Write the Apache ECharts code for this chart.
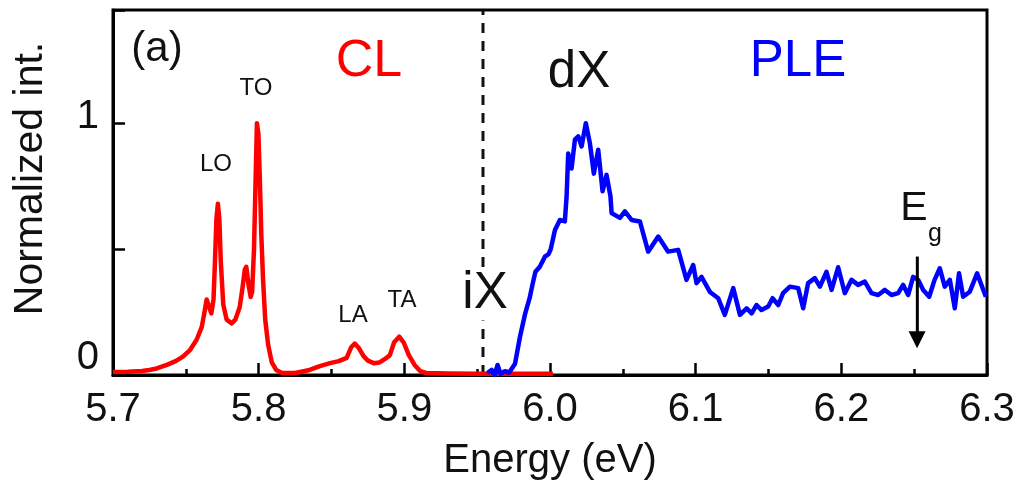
<!DOCTYPE html>
<html><head><meta charset="utf-8">
<script src="https://cdn.jsdelivr.net/npm/echarts@6/dist/echarts.min.js"></script>
<style>html,body{margin:0;padding:0;background:#fff}#c{width:1019px;height:488px}</style>
</head><body><div id="c"></div>
<script>
// CL spectrum (red)
const clEnergy = [5.700,5.710,5.720,5.725,5.730,5.737,5.743,5.748,5.753,5.7574,5.7609,5.7625,5.7643,5.7660,5.7675,5.7690,5.7700,5.7710,5.7720,5.7730,5.7740,5.7757,5.7780,5.7815,5.7840,5.7870,5.7890,5.7905,5.7915,5.7930,5.7945,5.7955,5.7968,5.7978,5.7988,5.7998,5.8008,5.8018,5.8030,5.8045,5.8065,5.8090,5.8120,5.8160,5.8250,5.8350,5.8420,5.8490,5.8550,5.8604,5.8635,5.8660,5.8690,5.8720,5.8750,5.8790,5.8830,5.8870,5.8900,5.8930,5.8965,5.8995,5.9030,5.9070,5.9110,5.9150,5.9300,5.9500,5.9700,6.0020];
const clIntensity = [0.012,0.013,0.016,0.020,0.026,0.040,0.055,0.073,0.100,0.140,0.190,0.240,0.300,0.270,0.245,0.300,0.450,0.620,0.680,0.620,0.450,0.280,0.220,0.205,0.220,0.270,0.350,0.420,0.430,0.360,0.310,0.330,0.500,0.750,1.000,0.960,0.780,0.560,0.380,0.220,0.120,0.050,0.020,0.008,0.008,0.020,0.035,0.047,0.055,0.068,0.110,0.125,0.105,0.075,0.057,0.047,0.050,0.065,0.078,0.130,0.152,0.130,0.080,0.040,0.015,0.008,0.006,0.005,0.005,0.005];
// PLE spectrum (blue)
const pleEnergy = [5.957,5.960,5.962,5.964,5.966,5.969,5.972,5.976,5.9794,5.983,5.986,5.988,5.990,5.993,5.9965,5.999,6.0005,6.0034,6.0068,6.0102,6.0114,6.0125,6.0148,6.0171,6.0194,6.0217,6.0246,6.0274,6.0301,6.0331,6.0361,6.0388,6.0415,6.0423,6.0480,6.0514,6.0560,6.0617,6.0674,6.0743,6.0811,6.0880,6.0937,6.0983,6.1006,6.1040,6.1098,6.1155,6.1200,6.1258,6.1304,6.1350,6.1384,6.1418,6.1452,6.1498,6.1528,6.1567,6.1600,6.1647,6.1704,6.1738,6.1772,6.1818,6.1853,6.1898,6.1933,6.1978,6.2024,6.2070,6.2115,6.2161,6.2207,6.2253,6.2299,6.2344,6.2390,6.2424,6.2459,6.2493,6.2527,6.2562,6.2603,6.2640,6.2676,6.2710,6.2745,6.2779,6.2808,6.2836,6.2882,6.2932,6.2992];
const pleIntensity = [0.008,0.020,0.000,0.040,0.005,0.015,0.010,0.045,0.152,0.245,0.305,0.360,0.410,0.430,0.470,0.480,0.500,0.576,0.616,0.610,0.710,0.880,0.820,0.935,0.948,0.908,1.000,0.920,0.800,0.895,0.730,0.795,0.710,0.643,0.624,0.650,0.616,0.610,0.490,0.550,0.490,0.497,0.378,0.437,0.365,0.390,0.330,0.305,0.239,0.345,0.239,0.265,0.245,0.278,0.258,0.272,0.305,0.278,0.325,0.351,0.345,0.265,0.365,0.385,0.351,0.410,0.338,0.428,0.325,0.378,0.358,0.371,0.325,0.318,0.338,0.318,0.325,0.358,0.318,0.390,0.378,0.338,0.311,0.378,0.424,0.351,0.378,0.265,0.404,0.311,0.331,0.404,0.311];
// iX marker (dashed line) and Eg arrow
const iXEnergy = 5.954;
const yRange = [0, 1.45];
const egEnergy = 6.252;
const egArrowFrom = 0.47;
const egArrowTo = 0.14;
const xTicks = [5.7, 6.3, 0.1];

const clData = clEnergy.map((e, i) => [e, clIntensity[i]]);
const pleData = pleEnergy.map((e, i) => [e, pleIntensity[i]]);
const FONT = '"Liberation Sans", Arial, Helvetica, sans-serif';

const chart = echarts.init(document.getElementById('c'), null, {renderer: 'canvas'});
chart.setOption({
  animation: false,
  backgroundColor: '#fff',
  grid: {left: 113, right: 32, top: 10, bottom: 113, show: true, borderColor: '#000', borderWidth: 3, backgroundColor: 'transparent'},
  xAxis: {
    type: 'value', min: xTicks[0], max: xTicks[1], interval: xTicks[2],
    name: 'Energy (eV)', nameLocation: 'middle', nameGap: 66,
    nameTextStyle: {fontFamily: FONT, fontSize: 40, color: '#111'},
    axisLine: {show: true, lineStyle: {color: '#000', width: 3}},
    axisTick: {show: true, inside: true, length: 12, lineStyle: {color: '#000', width: 2.5}},
    minorTick: {show: true, splitNumber: 2, length: 6, lineStyle: {color: '#000', width: 2.5}},
    splitLine: {show: false},
    axisLabel: {margin: 15, fontFamily: FONT, fontSize: 40, color: '#111', formatter: v => v.toFixed(1), showMinLabel: true, showMaxLabel: true}
  },
  yAxis: {
    type: 'value', min: yRange[0], max: yRange[1], interval: 0.5,
    name: 'Normalized int.', nameLocation: 'middle', nameGap: 62,
    nameTextStyle: {fontFamily: FONT, fontSize: 41, color: '#111', padding: [0, 0, 0, 28]},
    axisLine: {show: true, lineStyle: {color: '#000', width: 3}},
    axisTick: {show: true, inside: true, length: 12, lineStyle: {color: '#000', width: 2.5}},
    splitLine: {show: false},
    axisLabel: {
      margin: 14, fontFamily: FONT, fontSize: 40, color: '#111',
      formatter: v => v === 0 ? '{z|0}' : (v === 1 ? '{o|1}' : ''),
      rich: {
        z: {fontFamily: FONT, fontSize: 40, color: '#111', padding: [0, 0, 34, 0]},
        o: {fontFamily: FONT, fontSize: 40, color: '#111', padding: [0, 0, 12, 0]}
      }
    }
  },
  series: [
    {type: 'line', name: 'CL', data: clData, showSymbol: false, smooth: false, z: 3,
     lineStyle: {color: '#ff0000', width: 4.5, join: 'round'}, itemStyle: {color: '#ff0000'}},
    {type: 'line', name: 'PLE', data: pleData, showSymbol: false, smooth: false, z: 4,
     lineStyle: {color: '#0000ff', width: 4.5, join: 'round'}, itemStyle: {color: '#0000ff'}},
    {type: 'line', name: 'iX', data: [[iXEnergy, yRange[0]], [iXEnergy, yRange[1]]], showSymbol: false, z: 2,
     lineStyle: {color: '#111', width: 3, type: [10, 8]}},
    {type: 'line', name: 'Eg', data: [[egEnergy, egArrowFrom], [egEnergy, egArrowTo]], showSymbol: false, z: 5,
     lineStyle: {color: '#000', width: 2.5},
     markLine: {silent: true, symbol: ['none', 'triangle'], symbolSize: [17, 17], label: {show: false},
       lineStyle: {color: '#000', width: 2.5, type: 'solid'},
       data: [[{coord: [egEnergy, egArrowFrom]}, {coord: [egEnergy, egArrowTo]}]]}}
  ],
  graphic: [
    {type: 'text', x: 157, y: 49, style: {text: '(a)', font: '42px ' + FONT, fill: '#111', align: 'center', verticalAlign: 'middle'}},
    {type: 'text', x: 369, y: 62, style: {text: 'CL', font: '52px ' + FONT, fill: '#ff0000', align: 'center', verticalAlign: 'middle'}},
    {type: 'text', x: 256, y: 88, style: {text: 'TO', font: '24px ' + FONT, fill: '#111', align: 'center', verticalAlign: 'middle'}},
    {type: 'text', x: 216, y: 164, style: {text: 'LO', font: '24px ' + FONT, fill: '#111', align: 'center', verticalAlign: 'middle'}},
    {type: 'text', x: 353, y: 315, style: {text: 'LA', font: '24px ' + FONT, fill: '#111', align: 'center', verticalAlign: 'middle'}},
    {type: 'text', x: 402, y: 300, style: {text: 'TA', font: '24px ' + FONT, fill: '#111', align: 'center', verticalAlign: 'middle'}},
    {type: 'text', x: 579, y: 73, style: {text: 'dX', font: '51px ' + FONT, fill: '#111', align: 'center', verticalAlign: 'middle'}},
    {type: 'text', x: 485, y: 294, z: 10, style: {text: 'iX', font: '51px ' + FONT, fill: '#111', align: 'center', verticalAlign: 'middle', backgroundColor: '#fff', padding: [2, 1, 0, 1]}},
    {type: 'text', x: 798, y: 62, style: {text: 'PLE', font: '51px ' + FONT, fill: '#0000ff', align: 'center', verticalAlign: 'middle'}},
    {type: 'text', x: 914, y: 209, style: {text: 'E', font: '41px ' + FONT, fill: '#111', align: 'center', verticalAlign: 'middle'}},
    {type: 'text', x: 935, y: 234, style: {text: 'g', font: '25px ' + FONT, fill: '#111', align: 'center', verticalAlign: 'middle'}}
  ]
});
</script>
</body></html>
